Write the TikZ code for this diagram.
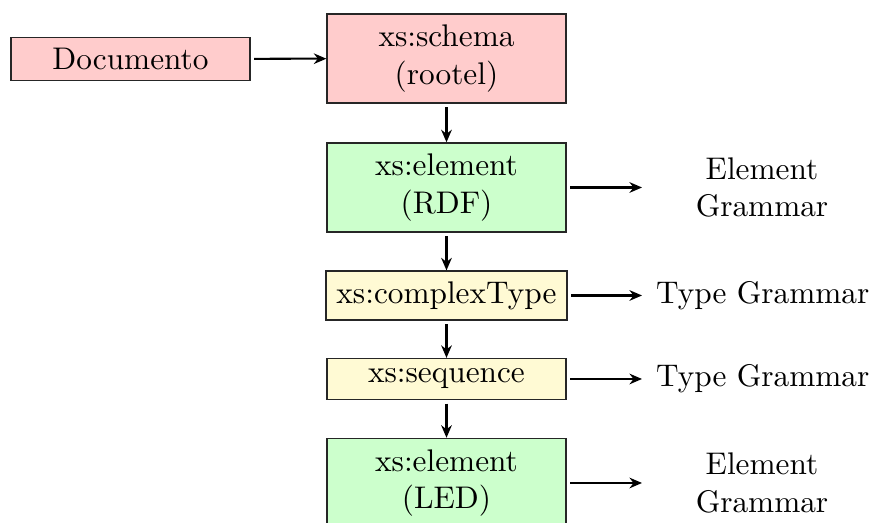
\documentclass[tikz,border=0pt]{standalone}
\usetikzlibrary{arrows.meta}
\definecolor{boxred}{HTML}{FFCCCC}
\definecolor{boxgreen}{HTML}{CCFFCC}
\definecolor{boxyellow}{HTML}{FFFAD4}
\begin{document}
\begin{tikzpicture}[x=0.3196pt, y=-0.3196pt,
  box/.style={draw=black!85, line width=0.4pt, minimum width=76.4pt, align=center},
  tallbox/.style={box, minimum height=28.5pt},
  link/.style={-{Stealth[length=4pt,width=3.4pt,inset=1.3pt]}, line width=0.65pt, shorten <=1.1pt},
  lbl/.style={align=center}]
  \useasboundingbox (0,0) rectangle (870,523);

  % main chain of schema elements
  \node[box, fill=boxred] (doc) at (130.5,59) {Documento};
  \node[tallbox, fill=boxred] (schema) at (446.5,58.5) {xs:schema\\(rootel)};
  \node[tallbox, fill=boxgreen] (rdf) at (446.5,187.5) {xs:element\\(RDF)};
  \node[box, fill=boxyellow] (ctype) at (446.5,295.5) {xs:complexType};
  \node[box, fill=boxyellow] (seq) at (446.5,379) {xs:sequence};
  \node[tallbox, fill=boxgreen] (led) at (446.5,483) {xs:element\\(LED)};

  \draw[link] (doc) -- (schema);
  \draw[link] (schema) -- (rdf);
  \draw[link] (rdf) -- (ctype);
  \draw[link] (ctype) -- (seq);
  \draw[link] (seq) -- (led);

  % grammars produced on the right
  \coordinate (rdfend) at (642,187.5);
  \coordinate (ctypeend) at (642,295.5);
  \coordinate (seqend) at (642,379);
  \coordinate (ledend) at (642,483);

  \node[lbl] (rdfg) at (762,187.5) {Element\\Grammar};
  \node[lbl, anchor=west] (ctypeg) at (645,295.5) {Type Grammar};
  \node[lbl, anchor=west] (seqg) at (645,379) {Type Grammar};
  \node[lbl] (ledg) at (762,483) {Element\\Grammar};

  \draw[link] (rdf.east) -- (rdfend);
  \draw[link] (ctype.east) -- (ctypeend);
  \draw[link] (seq.east) -- (seqend);
  \draw[link] (led.east) -- (ledend);
\end{tikzpicture}
\end{document}
